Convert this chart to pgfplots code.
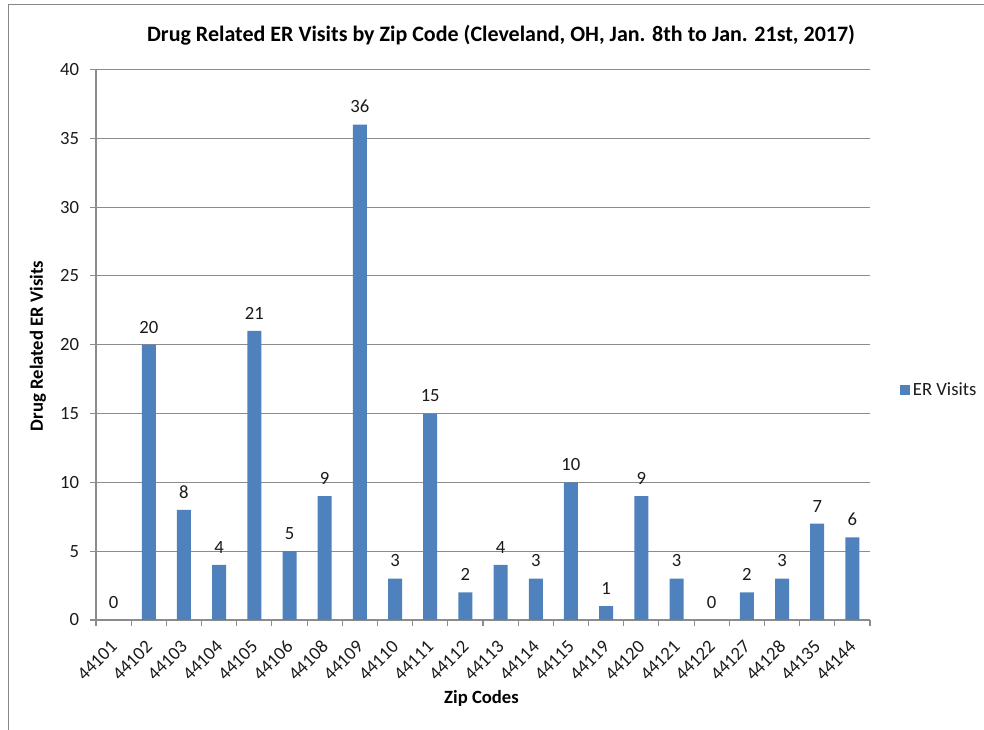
\documentclass[border=0pt]{standalone}
\usepackage{fontspec}
\setmainfont{Carlito}
\usepackage{pgfplots}
\pgfplotsset{compat=1.18}
\definecolor{barblue}{HTML}{4F81BD}
\definecolor{gridgray}{HTML}{8C8C8C}
\definecolor{framegray}{HTML}{878787}
\definecolor{txt}{HTML}{1A1A1A}
\begin{document}
\begin{tikzpicture}
\begin{scope}[x=0.75pt,y=0.75pt]
\useasboundingbox (0,0) rectangle (984,730);
\draw[framegray, line width=1pt] (8.8,0) -- (8.8,725.3) -- (984,725.3);
\node[font=\fontsize{16.5}{19}\selectfont\bfseries, text=black] at (501,695) {Drug Related ER Visits by Zip Code (Cleveland, OH, Jan. 8th to Jan. 21st, 2017)};
\node[rotate=90, font=\fontsize{14}{16}\selectfont\bfseries, text=black] at (38,384) {Drug Related ER Visits};
\node[font=\fontsize{14}{16}\selectfont\bfseries, text=black] at (481.5,32) {Zip Codes};
\end{scope}
\begin{axis}[
  at={(72pt,82.5pt)}, anchor=south west,
  scale only axis, width=580.5pt, height=412.875pt,
  ybar, bar width=10.5pt,
  xmin=-0.5, xmax=21.5, ymin=0, ymax=40,
  ytick={0,5,...,40},
  xtick=data,
  xticklabels={44101,44102,44103,44104,44105,44106,44108,44109,44110,44111,44112,44113,44114,44115,44119,44120,44121,44122,44127,44128,44135,44144},
  minor xtick={-0.5,0.5,...,21.5},
  major x tick style={draw=none},
  axis lines*=left,
  axis line style={gridgray, line width=0.8pt},
  tick align=outside,
  major tick length=4.5pt, minor tick length=4.5pt,
  tick style={gridgray, line width=0.8pt},
  ymajorgrids, grid style={gridgray, line width=0.8pt},
  /pgf/number format/assume math mode=true,
  ticklabel style={font=\fontsize{14}{16}\selectfont, text=txt},
  xticklabel style={yshift=-12.5pt, xshift=1pt, rotate=45, anchor=east, inner sep=1pt},
  yticklabel style={xshift=-6pt, inner sep=2pt},
  nodes near coords,
  nodes near coords style={font=\fontsize{14}{16}\selectfont, text=txt, inner sep=0pt, anchor=south, yshift=8.5pt},
  legend style={at={(rel axis cs:1,0.417)}, anchor=west, xshift=22.5pt, draw=none, fill=none, font=\fontsize{14}{16}\selectfont, text=txt, inner sep=0pt},
  legend image code/.code={\fill[barblue] (0pt,-3.75pt) rectangle (7.5pt,3.75pt);},
  clip=false,
]
\addplot[fill=barblue, draw=none, bar shift=0pt] coordinates {
(0,0) (1,20) (2,8) (3,4) (4,21) (5,5) (6,9) (7,36) (8,3) (9,15) (10,2)
(11,4) (12,3) (13,10) (14,1) (15,9) (16,3) (17,0) (18,2) (19,3) (20,7) (21,6)};
\addlegendentry{ER Visits}
\end{axis}
\end{tikzpicture}
\end{document}
